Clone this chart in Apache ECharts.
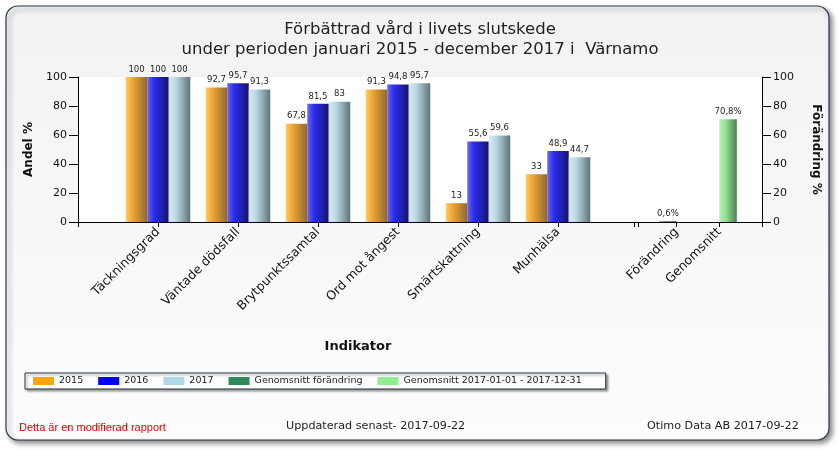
<!DOCTYPE html>
<html>
<head>
<meta charset="utf-8">
<script src="https://cdn.jsdelivr.net/npm/echarts@6/dist/echarts.min.js"></script>
<style>html,body{margin:0;padding:0;background:#fff;}#c{width:840px;height:450px;}</style>
</head>
<body>
<div id="c"></div>
<script>
const categories = ['Täckningsgrad', 'Väntade dödsfall', 'Brytpunktssamtal', 'Ord mot ångest', 'Smärtskattning', 'Munhälsa'];
const summaryCategories = ['Förändring', 'Genomsnitt'];
const v2015 = [100, 92.7, 67.8, 91.3, 13, 33];
const v2016 = [100, 95.7, 81.5, 94.8, 55.6, 48.9];
const v2017 = [100, 91.3, 83, 95.7, 59.6, 44.7];
const avgChange = [0.6, null];
const avg2017 = [null, 70.8];
const yTicks = [0, 20, 40, 60, 80, 100];

const pad = a => ['-'].concat(a.map(v => v === null ? '-' : v), ['-']);
const grad = stops => ({type: 'linear', x: 0, y: 0, x2: 1, y2: 0,
  colorStops: stops.map(s => ({offset: s[0], color: s[1]}))});
const fmt = p => String(p.value).replace('.', ',');
const fmtPct = p => String(p.value).replace('.', ',') + '%';
const lbl = f => ({show: true, position: 'top', distance: 3, fontFamily: 'DejaVu Sans', fontSize: 8.5, color: '#222', formatter: f});
const F = 'DejaVu Sans';

const chart = echarts.init(document.getElementById('c'));
chart.setOption({
  animation: false,
  graphic: [{
    type: 'rect', z: -10, shape: {x: 6, y: 6, width: 823, height: 434, r: 12},
    style: {fill: {type: 'linear', x: 0, y: 0, x2: 0, y2: 1, colorStops: [{offset: 0, color: '#f2f2f2'}, {offset: 1, color: '#fdfdfd'}]},
      stroke: '#2a3a4e', lineWidth: 1.2, shadowColor: 'rgba(0,0,0,0.45)', shadowBlur: 5, shadowOffsetX: 3, shadowOffsetY: 3}
  }],
  title: [
    {text: 'Förbättrad vård i livets slutskede\nunder perioden januari 2015 - december 2017 i  Värnamo', left: 'center', top: 20, padding: 0,
      textStyle: {fontFamily: F, fontSize: 16.5, fontWeight: 'normal', color: '#222', lineHeight: 20}},
    {text: 'Detta är en modifierad rapport', left: 19, top: 422, padding: 0, textStyle: {fontFamily: 'Liberation Sans', fontSize: 11, fontWeight: 'normal', color: '#e00000'}},
    {text: 'Uppdaterad senast- 2017-09-22', left: 286, top: 421, padding: 0, textStyle: {fontFamily: F, fontSize: 11.2, fontWeight: 'normal', color: '#222'}},
    {text: 'Otimo Data AB 2017-09-22', left: 647, top: 421, padding: 0, textStyle: {fontFamily: F, fontSize: 11.2, fontWeight: 'normal', color: '#222'}}
  ],
  legend: {
    left: 25, top: 373, padding: [3, 24, 3, 8], itemGap: 15, itemWidth: 21, itemHeight: 8, icon: 'rect',
    backgroundColor: '#fff', borderColor: '#1c2b3a', borderWidth: 1,
    shadowColor: 'rgba(0,0,0,0.35)', shadowBlur: 2, shadowOffsetX: 2, shadowOffsetY: 2,
    selectedMode: false,
    textStyle: {fontFamily: F, fontSize: 9.5, color: '#222'},
    data: [
      {name: '2015', itemStyle: {color: '#ffa500'}},
      {name: '2016', itemStyle: {color: '#0000ff'}},
      {name: '2017', itemStyle: {color: '#add8e6'}},
      {name: 'Genomsnitt förändring', itemStyle: {color: '#2e8b57'}},
      {name: 'Genomsnitt 2017-01-01 - 2017-12-31', itemStyle: {color: '#90ee90'}}
    ]
  },
  grid: [
    {left: 78, right: 202, top: 77, bottom: 228, show: true, backgroundColor: '#fff', borderWidth: 0},
    {left: 634, right: 78, top: 77, bottom: 228, show: true, backgroundColor: '#fff', borderWidth: 0}
  ],
  xAxis: [
    {type: 'category', gridIndex: 0, data: [''].concat(categories, ['']), boundaryGap: false,
      axisLine: {lineStyle: {color: '#000'}}, axisTick: {length: 5, lineStyle: {color: '#000'}},
      axisLabel: {rotate: 45, margin: 8, interval: 0, fontFamily: F, fontSize: 12.5, color: '#111'},
      name: 'Indikator', nameLocation: 'middle', nameGap: 118,
      nameTextStyle: {fontFamily: F, fontSize: 13, fontWeight: 'bold', color: '#111'}},
    {type: 'category', gridIndex: 1, data: [''].concat(summaryCategories, ['']), boundaryGap: false,
      axisLine: {lineStyle: {color: '#000'}}, axisTick: {length: 5, lineStyle: {color: '#000'}},
      axisLabel: {rotate: 45, margin: 8, interval: 0, fontFamily: F, fontSize: 12.5, color: '#111'}}
  ],
  yAxis: [
    {type: 'value', gridIndex: 0, min: yTicks[0], max: yTicks[yTicks.length - 1], interval: 20, position: 'left',
      axisLine: {show: true, lineStyle: {color: '#000'}}, axisTick: {show: true, inside: false, length: 9, lineStyle: {color: '#000', width: 1}},
      splitLine: {show: false}, axisLabel: {margin: 11, fontFamily: F, fontSize: 11, color: '#111'},
      name: 'Andel %', nameLocation: 'middle', nameGap: 34,
      nameTextStyle: {fontFamily: F, fontSize: 12, fontWeight: 'bold', color: '#111'}},
    {type: 'value', gridIndex: 1, min: yTicks[0], max: yTicks[yTicks.length - 1], interval: 20, position: 'right',
      axisLine: {show: true, lineStyle: {color: '#000'}}, axisTick: {show: true, inside: false, length: 9, lineStyle: {color: '#000', width: 1}},
      splitLine: {show: false}, axisLabel: {margin: 11, fontFamily: F, fontSize: 11, color: '#111'},
      name: 'Förändring %', nameLocation: 'middle', nameGap: 48, nameRotate: -90,
      nameTextStyle: {fontFamily: F, fontSize: 12, fontWeight: 'bold', color: '#111'}}
  ],
  series: [
    {name: '2015', type: 'bar', xAxisIndex: 0, yAxisIndex: 0, data: pad(v2015), barWidth: 21.5, barGap: '0%',
      itemStyle: {color: grad([[0, '#ffcc66'], [0.3, '#f2a830'], [1, '#8a6a38']])}, label: lbl(fmt)},
    {name: '2016', type: 'bar', xAxisIndex: 0, yAxisIndex: 0, data: pad(v2016), barWidth: 21.5, barGap: '0%',
      itemStyle: {color: grad([[0, '#6a6aff'], [0.3, '#2c2cec'], [1, '#15156e']])}, label: lbl(fmt)},
    {name: '2017', type: 'bar', xAxisIndex: 0, yAxisIndex: 0, data: pad(v2017), barWidth: 21.5, barGap: '0%',
      itemStyle: {color: grad([[0, '#d8ecf4'], [0.35, '#b6d6e4'], [1, '#5f747c']])}, label: lbl(fmt)},
    {name: 'Genomsnitt förändring', type: 'bar', xAxisIndex: 1, yAxisIndex: 1, data: pad(avgChange), barWidth: 17.5, barGap: '0%',
      itemStyle: {color: grad([[0, '#8aa090'], [0.35, '#6f8a78'], [1, '#4a5a50']])}, label: lbl(fmtPct)},
    {name: 'Genomsnitt 2017-01-01 - 2017-12-31', type: 'bar', xAxisIndex: 1, yAxisIndex: 1, data: pad(avg2017), barWidth: 17.5, barGap: '0%',
      itemStyle: {color: grad([[0, '#b4f4b4'], [0.35, '#94e094'], [1, '#4e7e56']])}, label: lbl(fmtPct)}
  ]
});
</script>
</body>
</html>
